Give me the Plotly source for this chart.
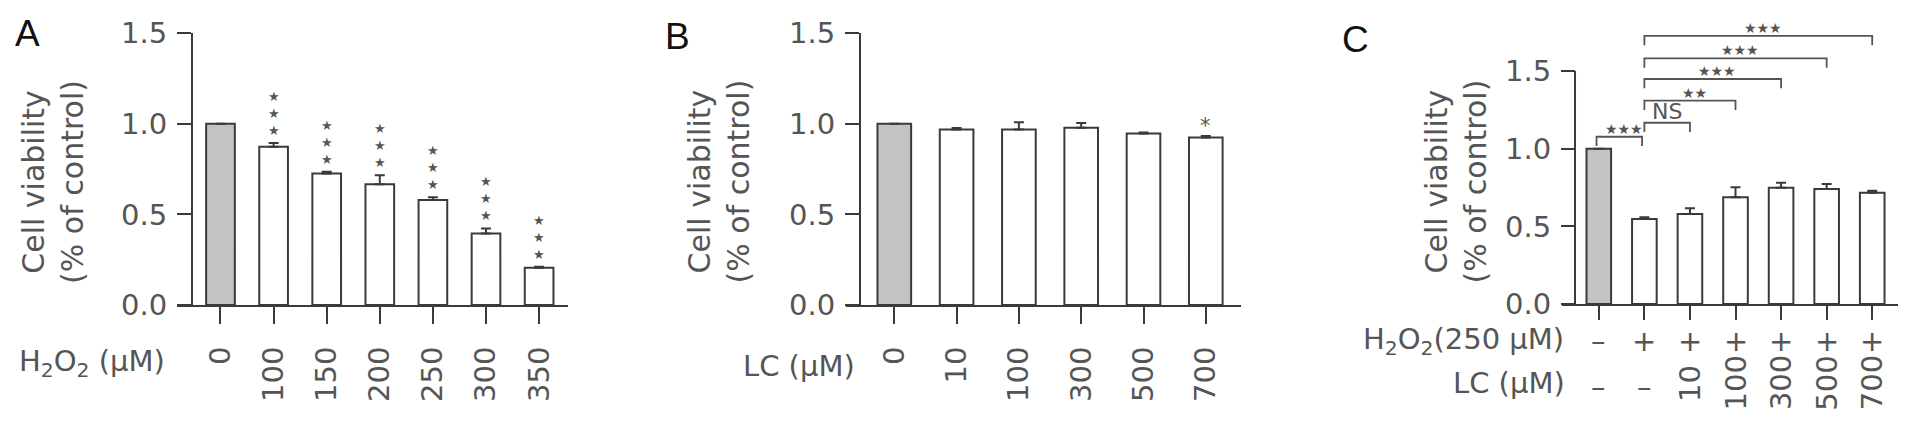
import plotly.graph_objects as go

# ---------------- data ----------------
a_labels = ["0", "100", "150", "200", "250", "300", "350"]
a_values = [1.0, 0.873, 0.726, 0.667, 0.580, 0.395, 0.206]
a_errors = [0.0, 0.022, 0.010, 0.050, 0.015, 0.028, 0.005]
a_sig = ["", "***", "***", "***", "***", "***", "***"]

b_labels = ["0", "10", "100", "300", "500", "700"]
b_values = [1.0, 0.969, 0.969, 0.978, 0.947, 0.925]
b_errors = [0.0, 0.008, 0.040, 0.027, 0.006, 0.008]
b_sig = ["", "", "", "", "", "*"]

c_h2o2 = ["–", "+", "+", "+", "+", "+", "+"]
c_lc = ["–", "–", "10", "100", "300", "500", "700"]
c_values = [1.0, 0.547, 0.579, 0.687, 0.749, 0.740, 0.717]
c_errors = [0.0, 0.012, 0.037, 0.064, 0.032, 0.032, 0.013]

# comparisons in panel C: (left bar, right bar, bracket height, label)
c_brackets_left = [0, 1, 1, 1, 1, 1]
c_brackets_right = [1, 2, 3, 4, 5, 6]
c_brackets_height = [1.077, 1.167, 1.309, 1.449, 1.582, 1.726]
c_brackets_label = ["***", "NS", "**", "***", "***", "***"]

y_ticks = [0, 0.5, 1.0, 1.5]

# ---------------- styling ----------------
W, H = 1913, 426
OFF = 8  # page body margin
FONT = "DejaVu Sans"
TXT = "#555555"
LINE = "#3a3a3a"
GRAY = "#c3c3c3"
STAR_FONT = dict(family="DejaVu Sans", size=13, color="#555555")


def px(x):
    return (x - OFF) / W


def py(y):
    return 1 - (y - OFF) / H


fig = go.Figure()


def add_bars(values, errors, xa, ya):
    n = len(values)
    fig.add_trace(go.Bar(
        x=list(range(n)), y=values, width=0.54,
        marker=dict(color=[GRAY] + ["white"] * (n - 1),
                    line=dict(color=LINE, width=2)),
        error_y=dict(type="data", symmetric=False, array=errors,
                     arrayminus=[0] * n, color=LINE, thickness=2, width=5),
        xaxis=xa, yaxis=ya, showlegend=False, hoverinfo="skip",
    ))


add_bars(a_values, a_errors, "x", "y")
add_bars(b_values, b_errors, "x2", "y2")
add_bars(c_values, c_errors, "x3", "y3")

tickfont = dict(family=FONT, size=29, color=TXT)

common_x = dict(showline=True, linecolor=LINE, linewidth=2, ticks="outside",
                tickcolor=LINE, tickwidth=2, showgrid=False, zeroline=False,
                tickfont=tickfont, fixedrange=True, automargin=False)
common_y = dict(ticks="outside", tickcolor=LINE, tickwidth=2, ticklen=14,
                showgrid=False, zeroline=False, tickfont=tickfont,
                tickvals=y_ticks, ticktext=["0.0", "0.5", "1.0", "1.5"],
                anchor="free", fixedrange=True, automargin=False,
                ticklabelstandoff=4)

fig.update_layout(
    template="none",
    xaxis=dict(common_x, domain=[px(177), px(568)], range=[-0.819, 6.544],
               tickvals=list(range(len(a_labels))), ticktext=a_labels,
               tickangle=-90, ticklen=17, anchor="y", ticklabelstandoff=11),
    yaxis=dict(common_y, domain=[py(305), py(33.3)], range=[0, 1.5],
               position=px(192), showline=True, linecolor=LINE, linewidth=2),
    xaxis2=dict(common_x, domain=[px(845.7), px(1241)], range=[-0.78, 5.565],
                tickvals=list(range(len(b_labels))), ticktext=b_labels,
                tickangle=-90, ticklen=17, anchor="y2", ticklabelstandoff=11),
    yaxis2=dict(common_y, domain=[py(305), py(33.3)], range=[0, 1.5],
                position=px(860), showline=True, linecolor=LINE, linewidth=2),
    xaxis3=dict(common_x, domain=[px(1561.7), px(1897.7)], range=[-0.814, 6.559],
                tickvals=list(range(len(c_values))), showticklabels=False,
                ticklen=14, anchor="y3"),
    yaxis3=dict(common_y, domain=[py(304), py(304 - 1.75 * 155.3)], range=[0, 1.75],
                position=px(1575), showline=False),
)

shapes = []
annotations = []

# y-axis spine for panel C (only up to 1.5)
shapes.append(dict(type="line", xref="x3", yref="y3", x0=-0.522, x1=-0.522,
                   y0=0, y1=1.5, line=dict(color=LINE, width=2)))

# significance stars A
for i, s in enumerate(a_sig):
    if s:
        annotations.append(dict(x=i, y=a_values[i] + a_errors[i], xref="x", yref="y",
                                text="<br>".join(["★"] * len(s)), showarrow=False,
                                yanchor="bottom", yshift=3, font=STAR_FONT))
# B
for i, s in enumerate(b_sig):
    if s:
        annotations.append(dict(x=i, y=b_values[i] + b_errors[i], xref="x2", yref="y2",
                                text=s, showarrow=False, yanchor="bottom", yshift=-4,
                                font=dict(family=FONT, size=21, color=TXT)))

# brackets C
for l, r, h, lab in zip(c_brackets_left, c_brackets_right, c_brackets_height, c_brackets_label):
    x0 = l - (0.05 if l == 0 else 0)
    x1 = r - (0.05 if l == 0 else 0)
    drop = 0.06
    shapes.append(dict(type="path", xref="x3", yref="y3",
                       path=f"M {x0},{h - drop} L {x0},{h} L {x1},{h} L {x1},{h - drop}",
                       line=dict(color="#555555", width=1.8)))
    if lab == "NS":
        annotations.append(dict(x=(x0 + x1) / 2, y=h, xref="x3", yref="y3", text="NS",
                                showarrow=False, yanchor="bottom", yshift=-3,
                                font=dict(family=FONT, size=22, color=TXT)))
    else:
        annotations.append(dict(x=(x0 + x1) / 2 + 0.1, y=h, xref="x3", yref="y3",
                                text="★" * len(lab), showarrow=False, yanchor="middle",
                                yshift=8, font=dict(family="DejaVu Sans", size=14, color="#555555")))

# C tick label rows
for i, t in enumerate(c_h2o2):
    annotations.append(dict(x=i, y=py(341), xref="x3", yref="paper", text=t,
                            showarrow=False, yanchor="middle",
                            font=dict(family=FONT, size=29, color=TXT)))
for i, t in enumerate(c_lc):
    ang = 0 if t == "–" else -90
    yy = 387 if t == "–" else 383
    annotations.append(dict(x=i, y=py(yy), xref="x3", yref="paper", text=t,
                            showarrow=False, yanchor="middle", textangle=ang,
                            font=dict(family=FONT, size=29, color=TXT)))

# axis row labels
lab_font = dict(family=FONT, size=29, color=TXT)
annotations.append(dict(x=px(17), y=py(363), xref="paper", yref="paper",
                        text="H<sub>2</sub>O<sub>2</sub> (μM)", showarrow=False,
                        xanchor="left", yanchor="middle", font=lab_font))
annotations.append(dict(x=px(857), y=py(366), xref="paper", yref="paper",
                        text="LC (μM)", showarrow=False,
                        xanchor="right", yanchor="middle", font=lab_font))
annotations.append(dict(x=px(1566), y=py(341), xref="paper", yref="paper",
                        text="H<sub>2</sub>O<sub>2</sub>(250 μM)", showarrow=False,
                        xanchor="right", yanchor="middle", font=lab_font))
annotations.append(dict(x=px(1567), y=py(383), xref="paper", yref="paper",
                        text="LC (μM)", showarrow=False,
                        xanchor="right", yanchor="middle", font=lab_font))

# y titles
for cx, cy in [(53.4, 181.5), (719, 181.5), (1455.5, 182)]:
    annotations.append(dict(x=px(cx), y=py(cy), xref="paper", yref="paper",
                            text="Cell viability<br>(% of control)", showarrow=False,
                            textangle=-90, xanchor="center", yanchor="middle",
                            font=dict(family=FONT, size=30, color=TXT)))

# panel letters
for letter, lx, ly in [("A", 13, 33.5), ("B", 663, 36), ("C", 1340, 39)]:
    annotations.append(dict(x=px(lx), y=py(ly), xref="paper", yref="paper",
                            text=letter, showarrow=False, xanchor="left",
                            yanchor="middle",
                            font=dict(family="Liberation Sans", size=37, color="#111111")))

fig.update_layout(
    width=W, height=H, margin=dict(l=0, r=0, t=0, b=0, autoexpand=False),
    paper_bgcolor="white", plot_bgcolor="white",
    shapes=shapes, annotations=annotations, bargap=0.46,
)

fig.write_html("out.html", config={"displayModeBar": False})
